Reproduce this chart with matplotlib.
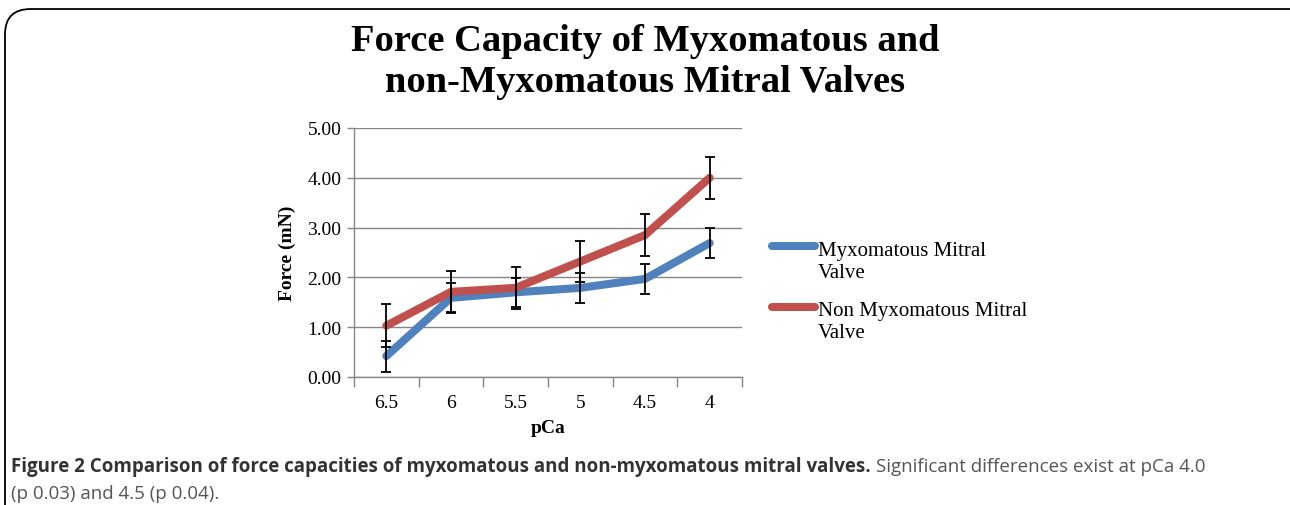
import matplotlib.pyplot as plt
from matplotlib.patches import FancyBboxPatch
from matplotlib.lines import Line2D
import numpy as np

# data
pca = ['6.5', '6', '5.5', '5', '4.5', '4']
myxo = [0.42, 1.59, 1.70, 1.79, 1.97, 2.69]
myxo_err = [0.31, 0.30, 0.29, 0.30, 0.30, 0.30]
non_myxo = [1.03, 1.71, 1.79, 2.32, 2.85, 4.00]
non_myxo_err = [0.43, 0.41, 0.42, 0.42, 0.43, 0.42]
labels = ['Myxomatous Mitral\nValve', 'Non Myxomatous Mitral\nValve']

blue = '#4F81BD'
red = '#C0504D'
serif = 'Liberation Serif'
W, H = 1290, 506

fig = plt.figure(figsize=(12.9, 5.06), dpi=100)

# rounded frame around the figure panel
frame = FancyBboxPatch((5 / W, -0.2), 1.2, 1.2 - 10 / H,
                       boxstyle='round,pad=0,rounding_size=0.02',
                       transform=fig.transFigure, fc='none', ec='black', lw=1.3,
                       mutation_aspect=2.5)
fig.patches.append(frame)

ax = fig.add_axes([354 / W, 1 - 378 / H, 388 / W, 249 / H])
x = np.arange(len(pca))

ax.plot(x, myxo, color=blue, lw=5.8, solid_capstyle='round', zorder=3)
ax.plot(x, non_myxo, color=red, lw=5.8, solid_capstyle='round', zorder=3)
ax.errorbar(x, myxo, yerr=myxo_err, fmt='none', ecolor='black', elinewidth=1.3,
            capsize=3.5, capthick=1.3, zorder=4)
ax.errorbar(x, non_myxo, yerr=non_myxo_err, fmt='none', ecolor='black', elinewidth=1.3,
            capsize=3.5, capthick=1.3, zorder=4)

ax.set_xlim(-0.5, len(pca) - 0.5)
ax.set_ylim(0, 5)
yt = np.arange(0, 5.01, 1)
ax.set_yticks(yt)
ax.set_yticklabels(['%.2f' % v for v in yt], fontfamily=serif, fontsize=14)
ax.set_xticks(x)
ax.set_xticklabels(pca, fontfamily=serif, fontsize=14)
ax.set_xticks(np.arange(-0.5, len(pca)), minor=True)
ax.tick_params(axis='x', which='major', length=0, pad=12)
ax.tick_params(axis='x', which='minor', length=7, width=1, color='#868686', direction='out')
ax.tick_params(axis='y', length=5, width=1, color='#868686', pad=4)
ax.grid(axis='y', color='#868686', lw=1)
ax.set_axisbelow(True)
for s in ['top', 'right']:
    ax.spines[s].set_visible(False)
for s in ['left', 'bottom']:
    ax.spines[s].set_color('#868686')
    ax.spines[s].set_linewidth(1)

ax.set_ylabel('Force (mN)', fontfamily=serif, fontweight='bold', fontsize=14, labelpad=8)
ax.set_xlabel('pCa', fontfamily=serif, fontweight='bold', fontsize=14, labelpad=6)

# legend, handle aligned with the first line of each label (as in Excel)
for lab, col, yh, yb in zip(labels, [blue, red], [247, 308], [278, 338]):
    fig.add_artist(Line2D([772 / W, 815 / W], [1 - yh / H] * 2, color=col, lw=5.8,
                          solid_capstyle='round', transform=fig.transFigure))
    fig.text(818 / W, 1 - yb / H, lab, ha='left', va='baseline', fontfamily=serif,
             fontsize=15, linespacing=1.2)

fig.text(645 / W, 1 - 62 / H, 'Force Capacity of Myxomatous and\nnon-Myxomatous Mitral Valves',
         ha='center', va='center', fontfamily=serif, fontweight='bold', fontsize=27.7,
         linespacing=1.25)

# caption
cap_y = 1 - 467 / H
t1 = fig.text(11 / W, cap_y, 'Figure 2 Comparison of force capacities of myxomatous and non-myxomatous mitral valves.',
              ha='left', va='center', fontfamily='Open Sans', fontweight='bold', fontsize=13.5, color='#333333')
fig.canvas.draw()
bb = t1.get_window_extent()
fig.text((bb.x1 + 5) / W, cap_y, 'Significant differences exist at pCa 4.0',
         ha='left', va='center', fontfamily='Open Sans', fontsize=13.5, color='#555555')
fig.text(11 / W, 1 - 494 / H, '(p 0.03) and 4.5 (p 0.04).',
         ha='left', va='center', fontfamily='Open Sans', fontsize=13.5, color='#555555')

fig.savefig('out.png', dpi=100)
